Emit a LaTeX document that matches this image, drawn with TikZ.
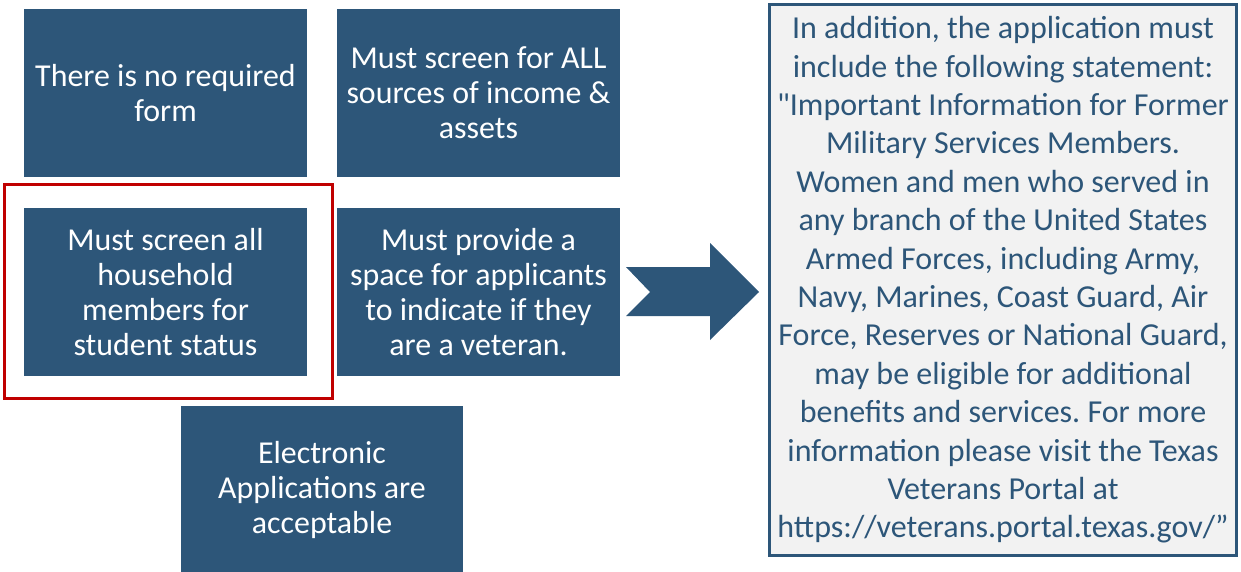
\documentclass[tikz,border=0pt]{standalone}
\usepackage{fontspec}
\setmainfont{Carlito}[Ligatures=TeXOff]
\usepackage{xcolor}
\definecolor{slate}{HTML}{2D5679}
\definecolor{panel}{HTML}{F2F2F2}
\definecolor{hilite}{HTML}{C00000}
\frenchspacing

\begin{document}
\begin{tikzpicture}[
  x=1pt, y=-1pt,
  blk/.style={fill=slate, text=white, align=center, inner sep=0pt,
    minimum width=283pt, minimum height=168pt,
    font=\fontsize{31.9}{35}\selectfont},
  note/.style={draw=slate, line width=2.5pt, fill=panel, text=slate,
    align=center, inner sep=0pt, minimum width=467pt, minimum height=551pt,
    font=\fontsize{32}{38.4}\selectfont},
]
\useasboundingbox (0,0) rectangle (1241,572);

\node [blk] (noform) at (165.5,93) {There is no required\\form};
\node [blk] (income) at (478.5,93) {Must screen for ALL\\sources of income \&\\assets};
\node [blk] (student) at (165.5,292) {Must screen all\\household\\members for\\student status};
\node [blk] (veteran) at (478.5,292) {Must provide a\\space for applicants\\to indicate if they\\are a veteran.};
\node [blk, minimum width=282pt, minimum height=167pt] (online) at (322,489.5) {Electronic\\Applications are\\acceptable};

\draw [hilite, line width=3pt] (4,185) rectangle (332,398);

\fill [slate] (626,267) -- (650,292) -- (626,316) -- (710,316) -- (710,340)
  -- (759,292) -- (710,243) -- (710,267) -- cycle;

\node [note] (statement) at (1003,280) {In addition, the application must\\
  include the following statement:\\
  "Important Information for Former\\
  Military Services Members.\\
  Women and men who served in\\
  any branch of the United States\\
  Armed Forces, including Army,\\
  Navy, Marines, Coast Guard, Air\\
  Force, Reserves or National Guard,\\
  may be eligible for additional\\
  benefits and services. For more\\
  information please visit the Texas\\
  Veterans Portal at\\
  https://veterans.portal.texas.gov/”};

\end{tikzpicture}
\end{document}
